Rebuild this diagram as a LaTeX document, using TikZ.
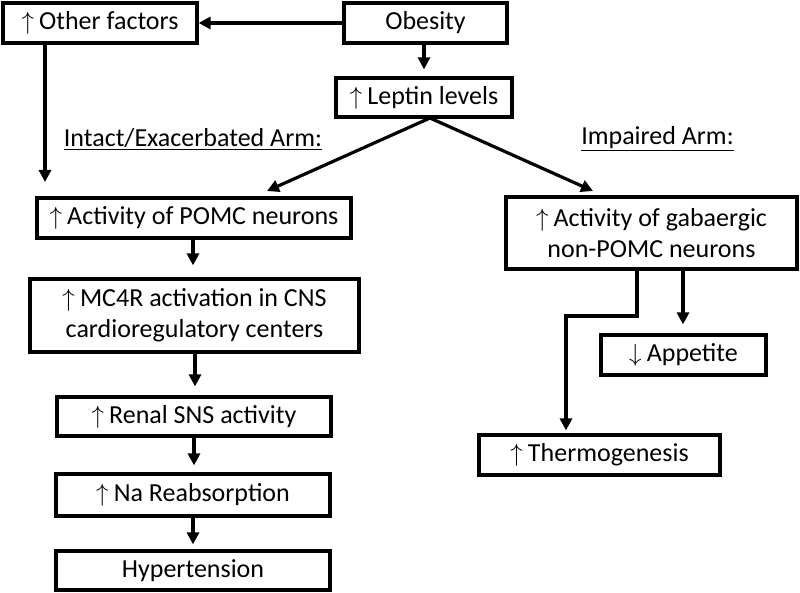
\documentclass[tikz,border=0pt]{standalone}
\usepackage{fontspec}
\setmainfont{Carlito}
\usetikzlibrary{arrows.meta}
\newcommand{\up}{$\uparrow$\hspace{0.2em}}
\newcommand{\dn}{$\downarrow$\hspace{0.2em}}
\begin{document}
\begin{tikzpicture}[x=1pt,y=-1pt,
  box/.style={draw, line width=3.2pt, rectangle, inner sep=0pt, align=center,
    font=\fontsize{26}{31}\selectfont},
  arr/.style={line width=3.2pt, -{Triangle[length=12pt,width=12pt]}},
  lbl/.style={font=\fontsize{26}{31}\selectfont, inner sep=0pt}]
\useasboundingbox (0,0) rectangle (800,593);
\fill[white] (0,0) rectangle (800,593);
% nodes
\node[box, minimum width=194pt, minimum height=40pt] (oth) at (100,23) {\up Other factors};
\node[box, minimum width=163pt, minimum height=40pt] (obe) at (425.5,23) {Obesity};
\node[box, minimum width=176pt, minimum height=39pt] (lep) at (424,97.5) {\up Leptin levels};
\node[box, minimum width=314pt, minimum height=40pt] (pomc) at (194,218) {\up Activity of POMC neurons};
\node[box, minimum width=329pt, minimum height=73pt] (mc4r) at (194.5,315.5) {\up MC4R activation in CNS\\cardioregulatory centers};
\node[box, minimum width=274pt, minimum height=39pt] (ren) at (194,416.5) {\up Renal SNS activity};
\node[box, minimum width=274pt, minimum height=42pt] (na) at (193,495) {\up Na Reabsorption};
\node[box, minimum width=274pt, minimum height=39pt] (hyp) at (193,570.5) {Hypertension};
\node[box, minimum width=291pt, minimum height=72pt] (gaba) at (651.5,233) {\up Activity of gabaergic\\non-POMC neurons};
\node[box, minimum width=165pt, minimum height=40pt] (app) at (683.5,355) {\dn Appetite};
\node[box, minimum width=241pt, minimum height=40pt] (therm) at (599.5,455) {\up Thermogenesis};
\node[lbl] (intact) at (193,139) {\underline{Intact/Exacerbated Arm:}};
\node[lbl] (impair) at (657.5,139) {\underline{Impaired Arm:}};
% coordinates
\coordinate (split) at (430,118);
\coordinate (ptip) at (267,191);
\coordinate (gtip) at (593,191);
\coordinate (otip) at (45,182);
\coordinate (tbend1) at (637,316);
\coordinate (tbend2) at (566,316);
% connectors
\draw[arr] (obe.west) -- (oth.east);
\draw[arr, shorten >=7pt] (lep.north |- obe.south) -- (lep.north);
\draw[arr] (split) -- (ptip);
\draw[arr] (split) -- (gtip);
\draw[arr] (otip |- oth.south) -- (otip);
\draw[arr, shorten >=12pt] (193,0 |- pomc.south) -- (193,0 |- mc4r.north);
\draw[arr, shorten >=9pt] (195,0 |- mc4r.south) -- (195,0 |- ren.north);
\draw[arr, shorten >=7pt] (194,0 |- ren.south) -- (194,0 |- na.north);
\draw[arr, shorten >=5pt] (193,0 |- na.south) -- (193,0 |- hyp.north);
\draw[arr, shorten >=9pt] (683,0 |- gaba.south) -- (683,0 |- app.north);
\draw[arr, shorten >=3pt] (tbend1 |- gaba.south) -- (tbend1) -- (tbend2) -- (tbend2 |- therm.north);
\end{tikzpicture}
\end{document}
